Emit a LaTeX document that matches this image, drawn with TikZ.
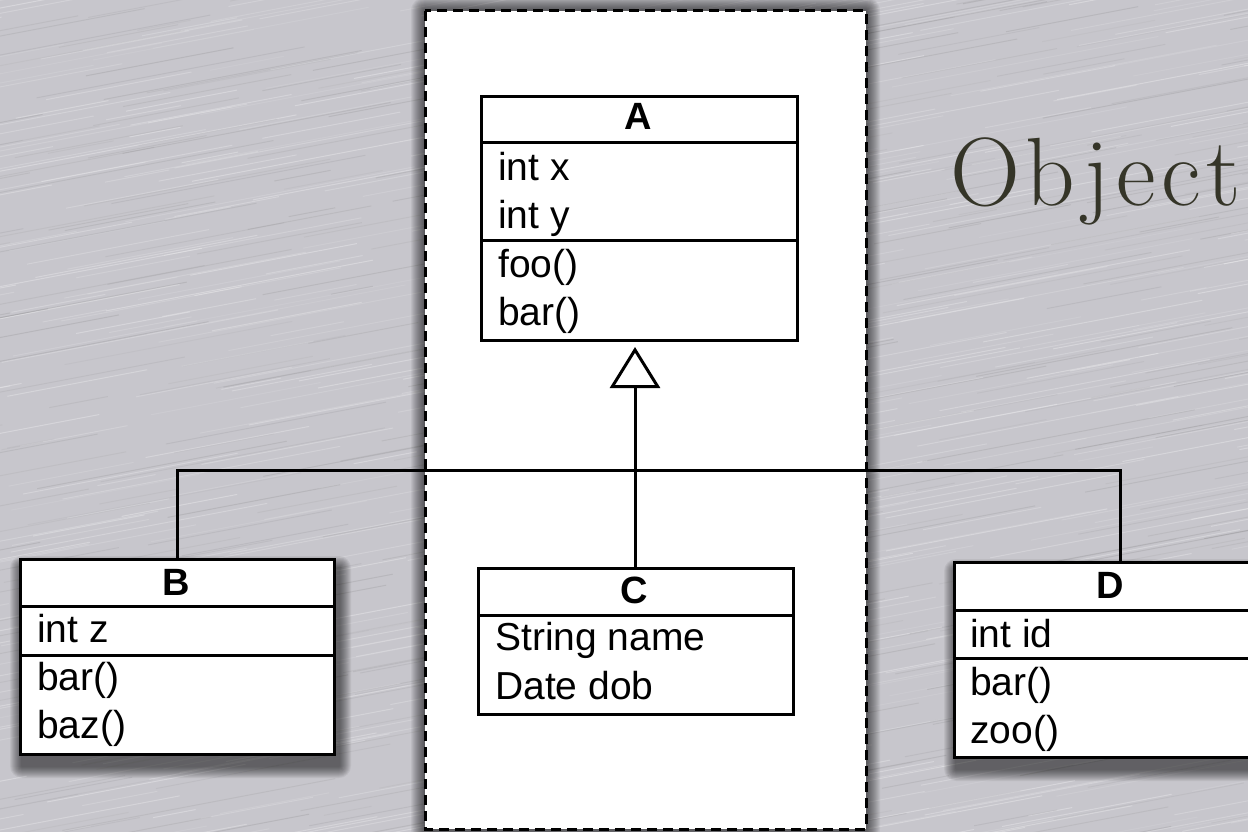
\documentclass[tikz,border=0pt]{standalone}
\usepackage{fontspec}
\newfontfamily\uml{Liberation Sans}
\newfontfamily\objfont{lmroman17-regular.otf}[LetterSpace=6]
\usetikzlibrary{arrows.meta}
\definecolor{metal}{RGB}{199,198,204}
\definecolor{objcol}{RGB}{53,53,40}
\pgfdeclarelayer{bg}
\pgfdeclarelayer{shadow}
\pgfsetlayers{bg,shadow,main}
\tikzset{
  umlbox/.style={draw, line width=3pt, fill=white, inner sep=0pt, anchor=north west},
  hdr/.style={font=\uml\bfseries\fontsize{38}{38}\selectfont, anchor=base, inner sep=0pt},
  item/.style={font=\uml\fontsize{39}{39}\selectfont, anchor=base west, inner sep=0pt},
  sepline/.style={line width=3pt},
  conn/.style={line width=3pt},
  panel/.style={draw, fill=white, line width=3pt, dash pattern=on 10pt off 6pt},
}
\newcommand\boxshadow[1]{%
  \begin{pgfonlayer}{shadow}
  \foreach \k in {1,...,12}{
    \fill[black, opacity=0.055, rounded corners=\k pt]
      ([shift={(3-\k,10-\k)}]#1.north west) rectangle ([shift={(3+\k,10+\k)}]#1.south east);
  }
  \end{pgfonlayer}}
\begin{document}
\begin{tikzpicture}[x=1pt,y=-1pt]
\useasboundingbox (0,0) rectangle (1248,832);
% brushed metal background
\begin{pgfonlayer}{bg}
\fill[metal] (0,0) rectangle (1248,832);
\begin{scope}
\clip (0,0) rectangle (1248,832);
\pgfmathsetseed{17}
\foreach \i in {1,...,800}{
  \pgfmathsetmacro{\sx}{rnd*1500-200}
  \pgfmathsetmacro{\sy}{rnd*1100-40}
  \pgfmathsetmacro{\sl}{40+rnd*260}
  \pgfmathsetmacro{\op}{0.08+rnd*0.22}
  \draw[white, opacity=\op, line width=1pt] (\sx,\sy) -- ++(\sl,-0.19*\sl);
}
\foreach \i in {1,...,500}{
  \pgfmathsetmacro{\sx}{rnd*1500-200}
  \pgfmathsetmacro{\sy}{rnd*1100-40}
  \pgfmathsetmacro{\sl}{40+rnd*260}
  \pgfmathsetmacro{\op}{0.04+rnd*0.09}
  \draw[black!70, opacity=\op, line width=1pt] (\sx,\sy) -- ++(\sl,-0.19*\sl);
}
\end{scope}
\end{pgfonlayer}

% white dashed panel
\draw[panel] (425,11) coordinate (Pnw) rectangle (866,829) coordinate (Pse);
\begin{pgfonlayer}{shadow}
\foreach \k in {1,...,14}{
  \fill[black, opacity=0.05, rounded corners=\k pt]
    ([shift={(-\k,-\k)}]Pnw) rectangle ([shift={(\k,\k)}]Pse);
}
\end{pgfonlayer}

% title
\node[font=\objfont\fontsize{97}{97}\selectfont, text=objcol, anchor=base west, inner sep=0pt] (T) at (950,205) {Object};

% class A
\node[umlbox, minimum width=316pt, minimum height=244pt] (A) at (480,95) {};
\draw[sepline] ([yshift=-48pt]A.north west) -- ([yshift=-48pt]A.north east);
\draw[sepline] ([yshift=-145pt]A.north west) -- ([yshift=-145pt]A.north east);
\node[hdr] (An) at (638,130) {A};
\node[item] (A1) at (498,180) {int x};
\node[item] (A2) at (498,228) {int y};
\node[item] (A3) at (498,277) {foo()};
\node[item] (A4) at (498,325) {bar()};

% class B
\node[umlbox, minimum width=314pt, minimum height=195pt] (B) at (19,558) {};
\boxshadow{B}
\draw[sepline] ([yshift=-48pt]B.north west) -- ([yshift=-48pt]B.north east);
\draw[sepline] ([yshift=-97pt]B.north west) -- ([yshift=-97pt]B.north east);
\node[hdr] (Bn) at (176,595) {B};
\node[item] (B1) at (37,642) {int z};
\node[item] (B2) at (37,690) {bar()};
\node[item] (B3) at (37,738) {baz()};

% class C
\node[umlbox, minimum width=315pt, minimum height=146pt] (C) at (477,567) {};
\draw[sepline] ([yshift=-48pt]C.north west) -- ([yshift=-48pt]C.north east);
\node[hdr] (Cn) at (634,603) {C};
\node[item] (C1) at (495,650) {String name};
\node[item] (C2) at (495,699) {Date dob};

% class D
\node[umlbox, minimum width=314pt, minimum height=195pt] (D) at (953,561) {};
\boxshadow{D}
\draw[sepline] ([yshift=-49pt]D.north west) -- ([yshift=-49pt]D.north east);
\draw[sepline] ([yshift=-97pt]D.north west) -- ([yshift=-97pt]D.north east);
\node[hdr] (Dn) at (1110,598) {D};
\node[item] (D1) at (970,647) {int id};
\node[item] (D2) at (970,695) {bar()};
\node[item] (D3) at (970,743) {zoo()};

% inheritance connectors
\coordinate (hub) at (635,470);
\coordinate (apex) at (635,347);
\draw[conn] (B.north) |- (hub) -| ([xshift=9pt]D.north);
\draw[conn, -{Triangle[open, length=41pt, width=50pt, line width=3pt]}] (C.north -| apex) -- (apex);
\end{tikzpicture}
\end{document}
